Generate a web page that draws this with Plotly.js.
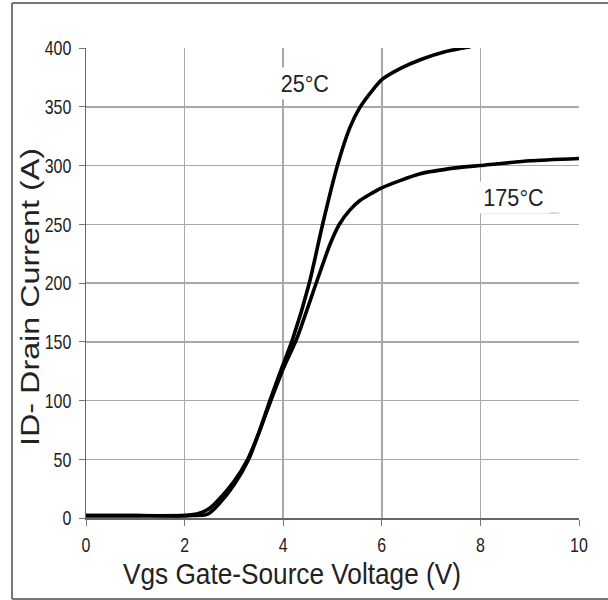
<!DOCTYPE html>
<html>
<head>
<meta charset="utf-8">
<script src="https://cdn.plot.ly/plotly-3.0.1.min.js"></script>
<style>
html,body{margin:0;padding:0;background:#fff;}
#chart{width:608px;height:600px;}
</style>
</head>
<body>
<div id="chart"></div>
<script>
const vgs25 = [0, 1, 2, 2.3, 2.5, 2.7, 3, 3.28, 3.5, 3.73, 3.92, 4.19, 4.53, 4.8, 5.1, 5.35, 5.55, 5.83, 6, 6.4, 6.78, 7.3, 7.8];
const id25  = [2, 2, 2, 4, 8, 16, 31, 50, 72, 100, 122, 152, 200, 250, 300, 332, 349, 365, 373, 383, 390, 397, 401];
const vgs175 = [0, 1, 2, 2.4, 2.5, 2.7, 3, 3.3, 3.75, 4, 4.27, 4.67, 4.95, 5.14, 5.35, 5.55, 6, 6.78, 7.5, 8, 9, 10];
const id175  = [2, 2, 2, 2.5, 4, 12, 28, 50, 100, 127, 152, 200, 233, 250, 262, 270, 281, 293, 298, 300, 304, 306];
const xTicks = [0, 2, 4, 6, 8, 10];
const yTicks = [0, 50, 100, 150, 200, 250, 300, 350, 400];
const labels = [{x: 4.45, y: 370, text: "25°C"}, {x: 8.68, y: 273, text: "175°C"}];

const sans = "Liberation Sans, Arial, sans-serif";
const numFont = {family: sans, size: 21, color: "#222"};
const lineStyle = {color: "#000", width: 3.6, shape: "spline", smoothing: 0.6};

const data = [
  {x: vgs25, y: id25, mode: "lines", line: lineStyle, hoverinfo: "skip", showlegend: false},
  {x: vgs175, y: id175, mode: "lines", line: lineStyle, hoverinfo: "skip", showlegend: false}
];

const px = v => (v - 86) / 493;      // paper x from pixel
const py = v => (518 - v) / 470;     // paper y from pixel

const layout = {
  width: 608, height: 600,
  margin: {l: 86, r: 29, t: 48, b: 82},
  paper_bgcolor: "#fff", plot_bgcolor: "#fff",
  showlegend: false,
  xaxis: {
    range: [0, 10], tickvals: xTicks, ticktext: xTicks.map(String),
    showgrid: true, gridcolor: "#a8a8a8", gridwidth: 1.5,
    zeroline: false, showline: true, linecolor: "#666", linewidth: 1.5,
    ticks: "outside", ticklen: 6, tickcolor: "#777", ticklabelstandoff: 1,
    tickfont: numFont,
    title: {text: "Vgs Gate-Source Voltage (V)", font: {family: sans, size: 30, color: "#222"}, standoff: 0}
  },
  yaxis: {
    range: [0, 400], tickvals: yTicks, ticktext: yTicks.map(String),
    showgrid: true, gridcolor: "#a8a8a8", gridwidth: 1.5,
    zeroline: false, showline: true, linecolor: "#666", linewidth: 1.5,
    ticks: "outside", ticklen: 6, tickcolor: "#777", ticklabelstandoff: 3,
    tickfont: numFont,
    title: {text: "ID- Drain Current (A)", font: {family: sans, size: 25, color: "#222"}, standoff: 0}
  },
  annotations: labels.map(l => ({
    x: l.x, y: l.y, xref: "x", yref: "y", text: l.text, showarrow: false,
    font: {family: sans, size: 24, color: "#222"},
    bgcolor: "#fff", borderpad: 2
  })),
  shapes: [
    {type: "line", xref: "x", yref: "y", x0: 8, x1: 9.6, y0: 259.5, y1: 259.5, line: {color: "#bbb", width: 1}},
    {type: "line", xref: "paper", yref: "paper", x0: px(12), x1: px(12), y0: py(3), y1: py(599), line: {color: "#777", width: 2}},
    {type: "line", xref: "paper", yref: "paper", x0: px(12), x1: px(612), y0: py(3), y1: py(3), line: {color: "#777", width: 2}},
    {type: "line", xref: "paper", yref: "paper", x0: px(12), x1: px(612), y0: py(599), y1: py(599), line: {color: "#777", width: 2}}
  ]
};

function squeeze(sel, factor, target) {
  document.querySelectorAll(sel).forEach(t => {
    const w = t.getComputedTextLength();
    if (!w) return;
    t.setAttribute("lengthAdjust", "spacingAndGlyphs");
    t.setAttribute("textLength", target ? target : w * factor);
  });
}
function shiftGroup(g, dx, dy) {
  const prev = g.getAttribute("transform") || "";
  g.setAttribute("transform", "translate(" + dx + "," + dy + ") " + prev);
}

Plotly.newPlot("chart", data, layout, {displayModeBar: false, staticPlot: true}).then(() => {
  squeeze("#chart .xtick text, #chart .ytick text", 0.76);
  squeeze("#chart .g-xtitle text", 0, 338);
  squeeze("#chart .g-ytitle text", 0, 298);
  squeeze("#chart .annotation-text", 0.9);

  const xt = Array.from(document.querySelectorAll("#chart .xtick text")).map(t => t.getBoundingClientRect());
  const yt = Array.from(document.querySelectorAll("#chart .ytick text")).map(t => t.getBoundingClientRect());
  const tickBottom = Math.max(...xt.map(r => r.bottom));
  const tickLeft = Math.min(...yt.map(r => r.left));

  const gx = document.querySelector("#chart .g-xtitle");
  const xtt = document.querySelector("#chart .g-xtitle text");
  if (gx && xtt) {
    const r = xtt.getBoundingClientRect();
    shiftGroup(gx, 292 - (r.left + r.right) / 2, tickBottom + 1 - r.top);
  }
  const gy = document.querySelector("#chart .g-ytitle");
  const ytt = document.querySelector("#chart .g-ytitle text");
  if (gy && ytt) {
    const r = ytt.getBoundingClientRect();
    const w = r.right - r.left;
    let cx = 31;
    if (cx + w / 2 > tickLeft - 1) cx = tickLeft - 1 - w / 2;
    shiftGroup(gy, cx - (r.left + r.right) / 2, 297 - (r.top + r.bottom) / 2);
  }
});
</script>
</body>
</html>
